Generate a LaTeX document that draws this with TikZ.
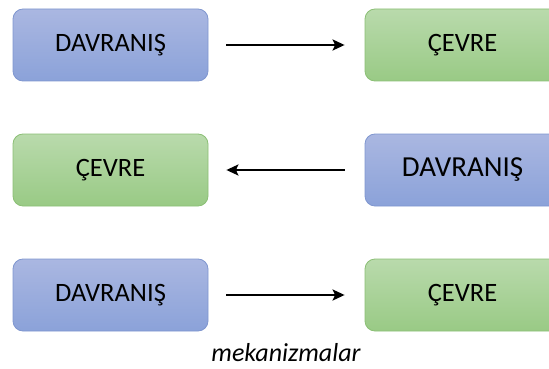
\documentclass[tikz,border=0pt]{standalone}
\usepackage{fontspec}
\setmainfont{Carlito}
\usetikzlibrary{positioning, arrows.meta}
\definecolor{davtop}{HTML}{AAB7E1}
\definecolor{davbot}{HTML}{8BA2D9}
\definecolor{davline}{HTML}{7F96CF}
\definecolor{cevtop}{HTML}{B9DAAC}
\definecolor{cevbot}{HTML}{99CA85}
\definecolor{cevline}{HTML}{8BBF75}
\tikzset{
    box/.style = {rounded corners=10pt, minimum width=195pt, minimum height=72pt,
        line width=0.8pt, font=\fontsize{26.5}{30}\selectfont, inner sep=0pt},
    davbox/.style = {box, draw=davline, top color=davtop, bottom color=davbot},
    cevbox/.style = {box, draw=cevline, top color=cevtop, bottom color=cevbot},
    link/.style = {-{Stealth[length=12pt,width=11pt,inset=2.5pt]}, line width=2.3pt},
}
\begin{document}
\begin{tikzpicture}[x=1pt, y=-1pt]
\clip (0,0) rectangle (549,369);
\useasboundingbox (0,0) rectangle (549,369);

\node[davbox] (d1) at (110.5,45) {DAVRANIŞ};
\node[cevbox] (c1) at (462.5,45) {ÇEVRE};
\draw[link, shorten <=18pt, shorten >=20pt] (d1) -- (c1);

\node[cevbox] (c2) at (110.5,170) {ÇEVRE};
\node[davbox, font=\fontsize{29}{33}\selectfont] (d2) at (462.5,170) {DAVRANIŞ};
\draw[link, shorten <=20pt, shorten >=18pt] (d2) -- (c2);

\node[davbox] (d3) at (110.5,295) {DAVRANIŞ};
\node[cevbox] (c3) at (462.5,295) {ÇEVRE};
\draw[link, shorten <=18pt, shorten >=20pt] (d3) -- (c3);

\node[font=\fontsize{26}{30}\selectfont\itshape] (mek) at (286,353) {mekanizmalar};
\end{tikzpicture}
\end{document}
